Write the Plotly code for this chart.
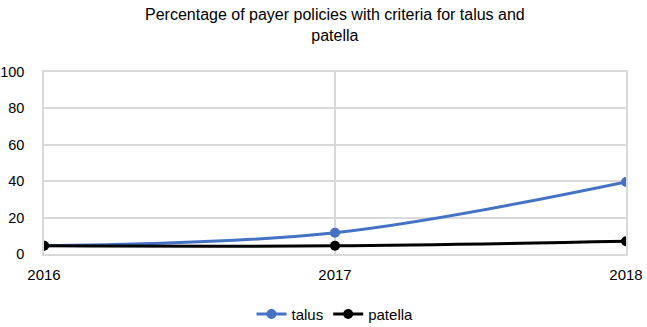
import plotly.graph_objects as go

years = [2016, 2017, 2018]
talus = [4.5, 11.7, 39.6]
patella = [4.5, 4.5, 7.0]
y_ticks = [0, 20, 40, 60, 80, 100]
title_text = "Percentage of payer policies with criteria for talus and<br>patella"

fig = go.Figure()
fig.add_trace(go.Scatter(x=years, y=talus, name="talus", mode="lines+markers",
                         line=dict(color="#4472C4", width=3, shape="spline"),
                         marker=dict(size=10, color="#4472C4")))
fig.add_trace(go.Scatter(x=years, y=patella, name="patella", mode="lines+markers",
                         line=dict(color="#000000", width=3, shape="spline"),
                         marker=dict(size=10, color="#000000")))

fig.add_annotation(text=title_text, xref="paper", yref="paper",
                   x=0.5, y=1.375, xanchor="center", yanchor="top",
                   showarrow=False, font=dict(size=16, color="#000000"))

fig.update_layout(
    width=647, height=327,
    paper_bgcolor="white", plot_bgcolor="white",
    margin=dict(l=44, r=21, t=72, b=73, autoexpand=False),
    font=dict(family="Liberation Sans", size=15, color="#000000"),
    showlegend=True,
    legend=dict(orientation="h", x=0.5, xanchor="center", y=-0.24, yanchor="top",
                font=dict(size=15, color="#000000")),
    xaxis=dict(range=[2016, 2018], tickvals=years, ticktext=[str(y) for y in years],
               showgrid=True, gridcolor="#d9d9d9", gridwidth=1.5, zeroline=False,
               showline=True, linecolor="#d9d9d9", linewidth=1.5, mirror=True,
               ticks="", ticklabelstandoff=6, automargin=False),
    yaxis=dict(range=[0, 100], tickvals=y_ticks,
               showgrid=True, gridcolor="#d9d9d9", gridwidth=1.5, zeroline=False,
               showline=True, linecolor="#d9d9d9", linewidth=1.5, mirror=True,
               ticks="", ticklabelstandoff=15, automargin=False,
               tickfont=dict(size=14.5)),
)

fig.write_html("out.html", config={"displayModeBar": False},
               post_script="document.body.style.margin='0';")
